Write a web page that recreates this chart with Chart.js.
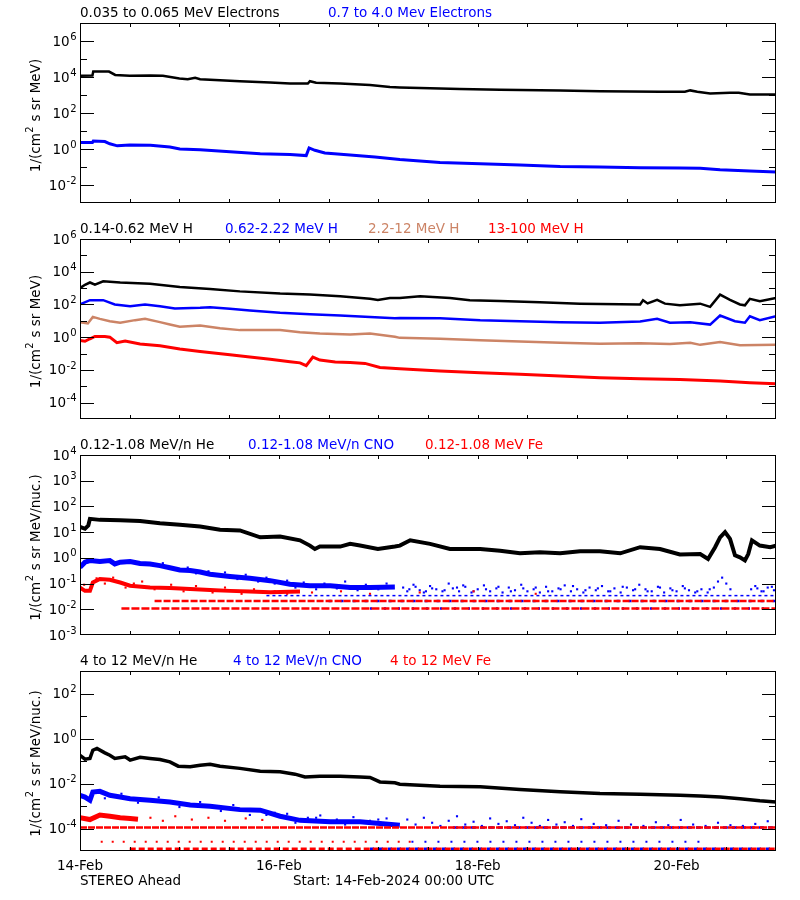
<!DOCTYPE html>
<html lang="en">
<head>
<meta charset="UTF-8">
<title>STEREO Ahead particle fluxes</title>
<script src="https://cdn.jsdelivr.net/npm/chart.js"></script>
<style>
    body { margin: 0; background: #fff; }
    #wrap { position: relative; width: 800px; height: 900px; }
    canvas { position: absolute; left: 0; }
</style>
</head>
<body>
<div id="wrap">
    <canvas id="p1" width="800" height="216" style="top:0px"></canvas>
    <canvas id="p2" width="800" height="216" style="top:216px"></canvas>
    <canvas id="p3" width="800" height="216" style="top:432px"></canvas>
    <canvas id="p4" width="800" height="252" style="top:648px"></canvas>
</div>
<script>
// hours since 14-Feb-2024 00:00 UTC
const dayLabels = ["14-Feb", "16-Feb", "18-Feb", "20-Feb"];
const dayHours = [0, 48, 96, 144];

// panel 1: electrons
const e1Hrs = [0,3.0,3.2,7,8.5,12,17,20,24,26,27.8,29,38.6,45.9,50.7,55,55.5,57,62.8,70,74.8,77.2,84.5,91.7,101.4,115.9,125.5,140,146,147.3,149,152.1,156.9,159,161.7,168];
const e1Flux = [1.17e4,1.2e4,2.0e4,2.0e4,1.3e4,1.17e4,1.2e4,1.17e4,8.3e3,7.5e3,9e3,7.5e3,5.8e3,5.0e3,4.3e3,4.3e3,5.8e3,4.8e3,4.3e3,3.6e3,2.75e3,2.6e3,2.35e3,2.15e3,1.95e3,1.8e3,1.6e3,1.5e3,1.5e3,1.8e3,1.5e3,1.23e3,1.35e3,1.35e3,1.07e3,1.05e3];
const e2Hrs = [0,3,3.2,6,7.2,9,12,17,21.7,24.1,29,36.2,43.5,50.7,54.6,55.3,56.7,59.1,65.2,71.2,76,77.2,86.9,96.6,106.2,115.9,125.5,135.2,144.8,149.7,154.5,161.7,168];
const e2Flux = [2.3,2.3,2.75,2.6,1.95,1.5,1.65,1.6,1.3,1.0,0.91,0.71,0.55,0.5,0.43,1.15,0.85,0.6,0.47,0.36,0.28,0.26,0.18,0.15,0.13,0.107,0.1,0.091,0.087,0.085,0.071,0.06,0.052];

// panel 2: protons
const h1Hrs = [0,1.2,2.4,3.6,5.6,9.7,16.9,24.1,31.4,38.6,48.3,55.5,62.8,70,71.9,74.8,77.2,82.1,89.3,94.1,101.4,111,120.7,130.4,135.2,135.9,137,139.3,141.2,144.8,149.7,152.1,154.5,156.9,159.3,160.5,161.7,164.1,168];
const h1Flux = [1.0e3,1.6e3,2.2e3,1.6e3,2.6e3,2.2e3,1.85e3,1.17e3,890,630,460,400,316,220,190,250,250,316,250,180,160,138,112,102,100,180,115,190,112,89,112,71,400,190,100,89,220,160,250];
const h2Hrs = [0,2.4,5.6,8.4,12.1,15.7,19.3,22.9,29,31.4,36.2,41,48.3,55.5,62.8,70,76,77.2,86.9,96.6,106.2,115.9,125.5,135.2,139.3,142.4,147.3,152.1,154.5,158.1,160.5,161.7,164.1,168];
const h2Flux = [100,182,182,100,78,100,78,56,62,68,54,43,31,25,21,17.4,14.5,15,14.5,11,9.5,8.3,7.6,9.1,13.2,7.6,8.3,5.9,21,9.5,7.6,19,11,19];
const h3Hrs = [0,1.9,3.1,4.8,7.2,9.7,13.3,15.7,19.3,21.7,24.1,29,33.8,38.6,48.3,53.1,57.9,65.2,70,76,77.2,86.9,96.6,106.2,115.9,125.5,135.2,142.4,147.3,149.7,154.5,159.3,168];
const h3Flux = [8.3,6.9,17.4,13.2,9.5,7.6,11,13.2,8.3,5.9,4.3,5.1,3.5,2.7,2.7,2.0,1.66,1.45,1.66,1.05,0.91,0.79,0.66,0.55,0.46,0.4,0.42,0.38,0.46,0.34,0.5,0.32,0.35];
const h4Hrs = [0,1.2,2.4,3.6,6,7.2,8.9,10.9,14.5,19.3,24.1,29,36.2,41,45.9,50.7,53.1,54.6,56.2,57.9,61.6,65.2,68.8,72.4,77.2,86.9,96.6,106.2,115.9,125.5,135.2,144.8,154.5,161.7,168];
const h4Flux = [0.63,0.56,0.8,1.1,1.1,1.0,0.46,0.58,0.38,0.3,0.19,0.135,0.085,0.062,0.045,0.032,0.027,0.018,0.06,0.04,0.03,0.028,0.025,0.014,0.0117,0.0085,0.0068,0.0054,0.0042,0.0033,0.0029,0.0026,0.0021,0.00166,0.00145];

// panel 3: 0.12-1.08 MeV/n heavy ions
const he3Hrs = [0,1.2,2,2.4,4.8,9.7,14.5,19.3,24.1,29,33.8,38.6,43.5,48.3,53.1,55.5,56.7,57.9,62.8,65.2,67.6,71.9,76,77.2,79.7,84.5,89.3,96.6,101.4,106.2,111,115.9,120.7,125.5,130.4,135.2,140,144.8,149.7,151.6,153.3,154.5,155.7,156.9,158.1,159.3,160.5,161.3,162.2,164.1,166.6,168];
const he3Flux = [16,13.5,18,33,30,29,27,22,19.5,16.6,12.3,11.7,6.3,6.8,4.8,3.0,2.2,2.75,2.75,3.5,3.0,2.2,2.75,3.0,4.8,3.5,2.2,2.2,1.9,1.5,1.66,1.5,1.8,1.8,1.5,2.6,2.2,1.35,1.4,0.9,2.6,6.3,10,5.5,1.25,1.05,0.8,1.4,4.8,3.0,2.6,3.0];
const cno3Hrs = [0,1.2,2.4,4.8,7.2,8.4,9.7,12.1,14.5,16.9,19.3,21.7,24.1,26.6,29,31.4,36.2,41,45.9,50.7,55.5,60.4,65.2,70,76];
const cno3Flux = [0.43,0.68,0.78,0.72,0.78,0.58,0.68,0.72,0.6,0.58,0.5,0.41,0.34,0.32,0.28,0.23,0.19,0.16,0.13,0.095,0.083,0.083,0.071,0.071,0.074];
const cno3DotHrs = [78,79,80.5,82,83,84.5,86,87.5,89,90,91.5,93,94.5,96,97.5,99,100.5,102,103.5,105,106.5,108,109.5,111,112.5,114,115.5,117,118.5,120,121.5,123,124.5,126,127.5,129,130.5,132,133.5,135,136.5,138,139.5,141,142.5,144,145.5,147,148.5,150,151.5,153,154,155,156,157,162,163,164.5,166,167.5];
const cno3DotFlux = [0.07,0.05,0.09,0.055,0.045,0.08,0.06,0.05,0.1,0.065,0.05,0.075,0.045,0.06,0.085,0.05,0.065,0.045,0.07,0.055,0.09,0.05,0.06,0.045,0.075,0.05,0.065,0.085,0.05,0.06,0.045,0.07,0.055,0.08,0.05,0.065,0.045,0.07,0.055,0.09,0.06,0.05,0.075,0.045,0.065,0.05,0.08,0.055,0.045,0.06,0.045,0.07,0.12,0.17,0.1,0.06,0.06,0.08,0.05,0.07,0.055];
const cno3Dot2Hrs = [20,23,26,28,31,33,35,38,40,43,45,47,50,52,54,57,59,62,64,67,69,72,74,79.5,81,83.5,85,88,91,92.5,95,98,101,104,107,110,113,116,119,122,125,128,131,134,137,140,143,146,149,152,163.5,165,167];
const cno3Dot2Flux = [0.62,0.36,0.42,0.25,0.3,0.2,0.27,0.15,0.22,0.12,0.17,0.1,0.13,0.07,0.11,0.06,0.1,0.065,0.12,0.055,0.09,0.06,0.1,0.06,0.075,0.05,0.065,0.055,0.07,0.085,0.05,0.06,0.075,0.05,0.065,0.07,0.05,0.06,0.08,0.055,0.065,0.05,0.075,0.06,0.05,0.07,0.055,0.065,0.05,0.06,0.065,0.05,0.075];
const fe3Hrs = [0,1.2,2.4,3.1,4.8,7.2,9.7,12.1,16.9,21.7,26.6,31.4,36.2,41,45.9,53.1];
const fe3Flux = [0.07,0.052,0.052,0.11,0.15,0.14,0.11,0.083,0.071,0.068,0.062,0.056,0.052,0.049,0.046,0.049];
const fe3DotHrs = [1,4,6,8,11,13,15,18,22,25,28,32,35,39,42,47,50,56,63,70,82,95,110];
const fe3DotFlux = [0.09,0.16,0.1,0.17,0.07,0.1,0.12,0.06,0.09,0.05,0.08,0.045,0.07,0.04,0.06,0.05,0.04,0.045,0.05,0.04,0.045,0.05,0.04];
// one-count levels seen as rows of dots
const rows3Level = [0.034, 0.021, 0.0107];
const rows3Start = [45, 18, 10];

// panel 4: 4-12 MeV/n heavy ions
const he4Hrs = [0,1.2,2.4,3.1,4.1,6,7.2,8.4,10.9,12.1,14.5,16.9,19.3,21.7,23.7,26.6,29,31.4,33.8,38.6,43.5,48.3,51.9,54.3,57.9,62.8,67.6,70,72.4,76,77.2,86.9,96.6,106.2,115.9,125.5,135.2,144.8,149.7,154.5,159.3,164.1,168];
const he4Flux = [0.18,0.12,0.13,0.3,0.36,0.23,0.18,0.13,0.155,0.11,0.145,0.13,0.117,0.091,0.059,0.055,0.065,0.072,0.059,0.047,0.035,0.033,0.026,0.0195,0.021,0.021,0.0195,0.0186,0.0117,0.0107,0.0093,0.0076,0.0071,0.0054,0.0043,0.0036,0.0033,0.003,0.00275,0.0025,0.0021,0.0017,0.0015];
const cno4Hrs = [0,1.2,2.4,3.1,4.8,7.2,9.7,12.1,16.9,21.7,26.6,31.4,38.6,43.5,48.3,53.1,60.4,67.6,77.2];
const cno4Flux = [0.003,0.0025,0.0018,0.0042,0.0045,0.003,0.0025,0.0021,0.0018,0.0015,0.0011,0.00098,0.00069,0.00065,0.00035,0.00023,0.0002,0.0002,0.00014];
const cno4DotHrs = [45,50,55,58,62,66,70,74,79,81,83,85,87,89,91,93,95,97,99,101,103,105,107,109,111,113,115,117,119,121,124,127,130,133,136,139,142,145,148,151,154,157,160,163,166];
const cno4DotFlux = [0.0004,0.00045,0.0003,0.00038,0.00025,0.00032,0.00022,0.00028,0.00025,0.00015,0.0003,0.00018,0.00013,0.00022,0.00035,0.00015,0.0002,0.00013,0.00028,0.00016,0.00021,0.00014,0.0003,0.00018,0.00013,0.00024,0.00015,0.00019,0.00013,0.00026,0.00016,0.00014,0.00022,0.00015,0.00013,0.00019,0.00014,0.00024,0.00015,0.00013,0.00018,0.00014,0.00013,0.00016,0.00021];
const cno4Dot2Hrs = [6,10,14,19,24,29,34,37,41,47,52,57,64,72];
const cno4Dot2Flux = [0.0022,0.0035,0.0014,0.0024,0.0009,0.0015,0.0006,0.0011,0.0004,0.0005,0.00018,0.0003,0.00015,0.00025];
const fe4Hrs = [0,2.4,4.8,7.2,9.7,12.1,14];
const fe4Flux = [0.0003,0.00025,0.0004,0.00035,0.0003,0.00028,0.00026];
const fe4DotHrs = [17,20,23,27,31,35,40,44];
const fe4DotFlux = [0.0003,0.00022,0.00035,0.00025,0.0003,0.00022,0.00028,0.00024];
const rows4Level = [0.00011, 0.000026, 0.0000125];
const rows4Start = [0, 5, 12];

const TAN = "#cc8466";
const FONT = '"DejaVu Sans", sans-serif';

function pts(hrs, vals) {
    return hrs.map((h, i) => ({x: h, y: vals[i]}));
}
function line(hrs, vals, color, w) {
    return {data: pts(hrs, vals), showLine: true, borderColor: color, borderWidth: w,
            pointRadius: 0, tension: 0};
}
function dots(hrs, vals, color) {
    return {data: pts(hrs, vals), showLine: false, pointStyle: "rect", pointRadius: 1.5,
            backgroundColor: color, borderColor: color, borderWidth: 0};
}
function row(level, from, to, color, dash, w) {
    return {data: [{x: from, y: level}, {x: to, y: level}], showLine: true, borderColor: color,
            borderWidth: w || 2, borderDash: dash, pointRadius: 0};
}

function makeFrame(p) {
    return {
        id: "frame",
        afterDraw(chart) {
            const ctx = chart.ctx, a = chart.chartArea;
            const xs = chart.scales.x, ys = chart.scales.y;
            ctx.save();
            ctx.strokeStyle = "#000";
            ctx.lineWidth = 1;
            ctx.strokeRect(a.left + 0.5, a.top + 0.5, a.right - a.left - 1, a.bottom - a.top - 1);
            ctx.beginPath();
            for (let h = 12; h < 168; h += 12) {
                const px = Math.round(xs.getPixelForValue(h)) + 0.5;
                ctx.moveTo(px, a.top); ctx.lineTo(px, a.top + 4);
                ctx.moveTo(px, a.bottom); ctx.lineTo(px, a.bottom - 4);
            }
            for (let e = p.lo + 1; e < p.hi; e++) {
                const py = Math.round(ys.getPixelForValue(Math.pow(10, e))) + 0.5;
                const len = p.major.includes(e) ? 14 : 7;
                ctx.moveTo(a.left, py); ctx.lineTo(a.left + len, py);
                ctx.moveTo(a.right, py); ctx.lineTo(a.right - len, py);
            }
            ctx.stroke();

            ctx.fillStyle = "#000";
            ctx.textBaseline = "middle";
            ctx.textAlign = "left";
            // y tick labels, 10 with raised exponent
            p.labels.forEach(e => {
                const py = ys.getPixelForValue(Math.pow(10, e));
                ctx.font = "13.5px " + FONT;
                const wb = ctx.measureText("10").width;
                ctx.font = "10px " + FONT;
                const ex = String(e);
                const we = ctx.measureText(ex).width;
                const x0 = a.left - 4 - wb - we;
                ctx.font = "13.5px " + FONT;
                ctx.fillText("10", x0, py + 1);
                ctx.font = "10px " + FONT;
                ctx.fillText(ex, x0 + wb + 0.5, py - 4);
            });

            // titles above the box
            ctx.font = "13.5px " + FONT;
            p.titles.forEach(t => {
                ctx.fillStyle = t[1];
                ctx.fillText(t[0], t[2], a.top - 10);
            });

            // rotated y title
            ctx.fillStyle = "#000";
            ctx.translate(36, (a.top + a.bottom) / 2 + 3);
            ctx.rotate(-Math.PI / 2);
            const s1 = "1/(cm", s2 = "2", s3 = p.unit;
            ctx.font = "13.5px " + FONT;
            const w1 = ctx.measureText(s1).width, w3 = ctx.measureText(s3).width;
            ctx.font = "10px " + FONT;
            const w2 = ctx.measureText(s2).width;
            let x0 = -(w1 + w2 + w3) / 2;
            ctx.font = "13.5px " + FONT;
            ctx.fillText(s1, x0, 0);
            ctx.font = "10px " + FONT;
            ctx.fillText(s2, x0 + w1 + 0.5, -6);
            ctx.font = "13.5px " + FONT;
            ctx.fillText(s3, x0 + w1 + w2 + 1, 0);
            ctx.restore();

            if (p.bottom) {
                ctx.save();
                ctx.fillStyle = "#000";
                ctx.font = "13.5px " + FONT;
                ctx.textBaseline = "middle";
                ctx.textAlign = "center";
                dayLabels.forEach((d, i) => ctx.fillText(d, xs.getPixelForValue(dayHours[i]), a.bottom + 15));
                ctx.textAlign = "left";
                ctx.fillText("STEREO Ahead", a.left, a.bottom + 30);
                ctx.fillText("Start: 14-Feb-2024 00:00 UTC", 293, a.bottom + 30);
                ctx.restore();
            }
        }
    };
}

function makePanel(id, p, datasets) {
    const bottomPad = p.bottom ? 49 : 13;
    return new Chart(document.getElementById(id), {
        type: "scatter",
        data: {datasets: datasets},
        options: {
            responsive: false,
            animation: false,
            layout: {padding: {left: 80, right: 24, top: 23, bottom: bottomPad}},
            scales: {
                x: {type: "linear", min: 0, max: 168, display: false},
                y: {type: "logarithmic", min: Math.pow(10, p.lo), max: Math.pow(10, p.hi), display: false}
            },
            plugins: {legend: {display: false}, tooltip: {enabled: false}}
        },
        plugins: [makeFrame(p)]
    });
}

makePanel("p1", {
    lo: -3, hi: 7, major: [-2, 0, 2, 4, 6], labels: [-2, 0, 2, 4, 6], unit: " s sr MeV)",
    titles: [["0.035 to 0.065 MeV Electrons", "#000", 80], ["0.7 to 4.0 Mev Electrons", "#0000ff", 328]]
}, [
    line(e1Hrs, e1Flux, "#000", 2.5),
    line(e2Hrs, e2Flux, "#0000ff", 3)
]);

makePanel("p2", {
    lo: -5, hi: 6, major: [-4, -2, 0, 2, 4], labels: [-4, -2, 0, 2, 4, 6], unit: " s sr MeV)",
    titles: [["0.14-0.62 MeV H", "#000", 80], ["0.62-2.22 MeV H", "#0000ff", 225],
             ["2.2-12 MeV H", TAN, 368], ["13-100 MeV H", "#ff0000", 488]]
}, [
    line(h1Hrs, h1Flux, "#000", 2.5),
    line(h2Hrs, h2Flux, "#0000ff", 2.5),
    line(h3Hrs, h3Flux, TAN, 2.5),
    line(h4Hrs, h4Flux, "#ff0000", 3)
]);

makePanel("p3", {
    lo: -3, hi: 4, major: [-2, -1, 0, 1, 2, 3], labels: [-3, -2, -1, 0, 1, 2, 3, 4], unit: " s sr MeV/nuc.)",
    titles: [["0.12-1.08 MeV/n He", "#000", 80], ["0.12-1.08 MeV/n CNO", "#0000ff", 248],
             ["0.12-1.08 MeV Fe", "#ff0000", 425]]
}, [
    row(rows3Level[0], rows3Start[0], 168, "#0000ff", [3, 3], 1.5),
    row(rows3Level[1], rows3Start[1], 168, "#ff0000", [7, 2], 2.5),
    row(rows3Level[1], 60, 168, "#0000ff", [3, 9], 2.5),
    row(rows3Level[2], rows3Start[2], 168, "#ff0000", [8, 2], 2.5),
    row(rows3Level[2], 70, 168, "#0000ff", [2, 12], 2.5),
    line(fe3Hrs, fe3Flux, "#ff0000", 4),
    dots(fe3DotHrs, fe3DotFlux, "#ff0000"),
    line(cno3Hrs, cno3Flux, "#0000ff", 5),
    dots(cno3DotHrs, cno3DotFlux, "#0000ff"),
    dots(cno3Dot2Hrs, cno3Dot2Flux, "#0000ff"),
    line(he3Hrs, he3Flux, "#000", 4)
]);

makePanel("p4", {
    lo: -5, hi: 3, major: [-4, -2, 0, 2], labels: [-4, -2, 0, 2], unit: " s sr MeV/nuc.)", bottom: true,
    titles: [["4 to 12 MeV/n He", "#000", 80], ["4 to 12 MeV/n CNO", "#0000ff", 233],
             ["4 to 12 MeV Fe", "#ff0000", 390]]
}, [
    row(rows4Level[0], rows4Start[0], 168, "#ff0000", [7, 1], 2.5),
    row(rows4Level[0], 90, 168, "#0000ff", [5, 4], 2.5),
    row(rows4Level[1], rows4Start[1], 80, "#ff0000", [2, 9], 2),
    row(rows4Level[1], 80, 150, "#0000ff", [2, 11], 2),
    row(rows4Level[2], rows4Start[2], 168, "#ff0000", [6, 3], 2.5),
    row(rows4Level[2], 70, 168, "#0000ff", [4, 5], 2.5),
    line(fe4Hrs, fe4Flux, "#ff0000", 5),
    dots(fe4DotHrs, fe4DotFlux, "#ff0000"),
    line(cno4Hrs, cno4Flux, "#0000ff", 5),
    dots(cno4DotHrs, cno4DotFlux, "#0000ff"),
    dots(cno4Dot2Hrs, cno4Dot2Flux, "#0000ff"),
    line(he4Hrs, he4Flux, "#000", 3.5)
]);
</script>
</body>
</html>
